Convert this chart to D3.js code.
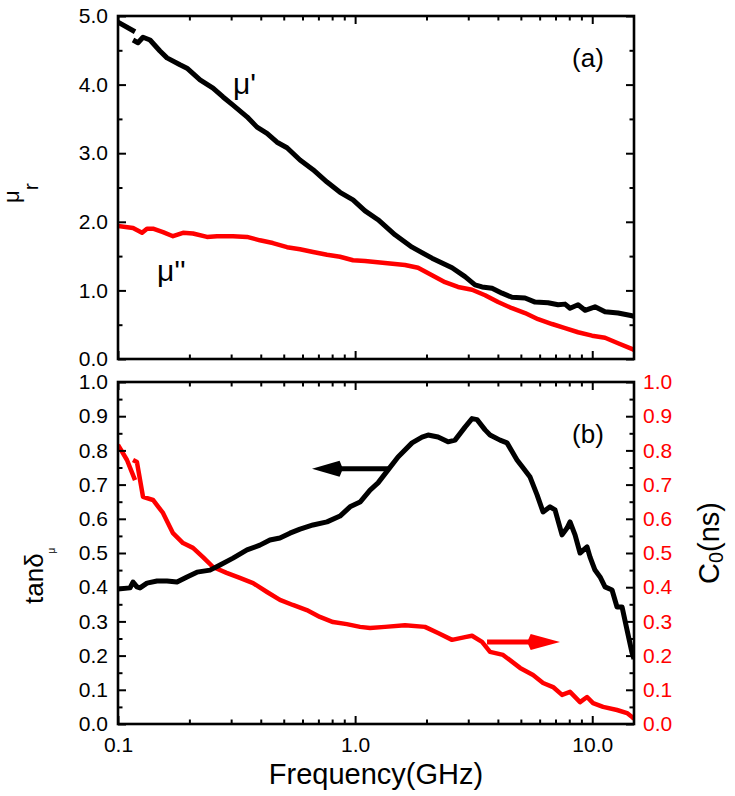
<!DOCTYPE html>
<html>
<head>
<meta charset="utf-8">
<script src="https://cdn.jsdelivr.net/npm/d3@7"></script>
<style>
  html, body { margin: 0; padding: 0; background: #fff; }
  svg { display: block; }
</style>
</head>
<body>
<svg id="chart" width="735" height="796"></svg>
<script>
// ---------------- data (frequency in GHz, value) ----------------
const xMajorTicks = [0.1, 1, 10];
const xMajorLabels = ["0.1", "1.0", "10.0"];
const xMinorTicks = [0.2, 0.3, 0.4, 0.5, 0.6, 0.7, 0.8, 0.9, 2, 3, 4, 5, 6, 7, 8, 9];

const topMajorTicks = [0, 1, 2, 3, 4, 5];
const topMajorLabels = ["0.0", "1.0", "2.0", "3.0", "4.0", "5.0"];
const topMinorTicks = [0.5, 1.5, 2.5, 3.5, 4.5];

const botMajorTicks = [0, 0.1, 0.2, 0.3, 0.4, 0.5, 0.6, 0.7, 0.8, 0.9, 1.0];
const botMajorLabels = ["0.0", "0.1", "0.2", "0.3", "0.4", "0.5", "0.6", "0.7", "0.8", "0.9", "1.0"];
const botMinorTicks = [0.05, 0.15, 0.25, 0.35, 0.45, 0.55, 0.65, 0.75, 0.85, 0.95];

// mu' (black, top panel); null marks a break in the trace
const muPrime = [
  [0.1, 4.91], [0.118, 4.77], null,
  [0.1157, 4.65], [0.1214, 4.61], [0.1275, 4.69], [0.1365, 4.65], [0.1503, 4.49],
  [0.1609, 4.39], [0.1826, 4.29], [0.1954, 4.24], [0.2218, 4.07], [0.2516, 3.95],
  [0.2773, 3.82], [0.3055, 3.70], [0.35, 3.53], [0.3857, 3.38], [0.425, 3.29],
  [0.4684, 3.16], [0.5162, 3.08], [0.5856, 2.90], [0.6645, 2.76], [0.7612, 2.58],
  [0.8636, 2.43], [0.9797, 2.32], [1.101, 2.16], [1.249, 2.03], [1.473, 1.81],
  [1.738, 1.63], [2.11, 1.47], [2.563, 1.33], [2.907, 1.20], [3.203, 1.08],
  [3.429, 1.05], [3.779, 1.03], [4.165, 0.96], [4.588, 0.90], [5.207, 0.89],
  [5.74, 0.83], [6.512, 0.82], [7.175, 0.79], [7.678, 0.80], [8.06, 0.74],
  [8.712, 0.79], [9.325, 0.71], [10.27, 0.76], [11.32, 0.69], [12.85, 0.67],
  [14.72, 0.63], [15, 0.62]
];

// mu'' (red, top panel)
const muDouble = [
  [0.1, 1.94], [0.1157, 1.91], [0.1263, 1.84], [0.1325, 1.90], [0.1405, 1.90],
  [0.1548, 1.85], [0.1706, 1.79], [0.188, 1.84], [0.2071, 1.83], [0.2373, 1.78],
  [0.2616, 1.79], [0.3055, 1.79], [0.35, 1.78], [0.3967, 1.73], [0.4499, 1.69],
  [0.5162, 1.63], [0.5856, 1.60], [0.6645, 1.56], [0.7612, 1.52], [0.8636, 1.49],
  [0.9797, 1.44], [1.101, 1.43], [1.337, 1.40], [1.623, 1.37], [1.842, 1.33],
  [2.11, 1.22], [2.394, 1.12], [2.716, 1.05], [3.112, 1.01], [3.532, 0.93],
  [4.007, 0.83], [4.588, 0.74], [5.207, 0.67], [5.909, 0.58], [6.769, 0.51],
  [7.678, 0.45], [8.712, 0.39], [9.98, 0.34], [11.32, 0.31], [12.85, 0.23],
  [14.86, 0.14], [15, 0.13]
];

// tan delta_mu (black, bottom panel, left axis)
const tanDelta = [
  [0.1, 0.395], [0.1124, 0.398], [0.1157, 0.415], [0.1202, 0.401], [0.1238, 0.398],
  [0.1325, 0.412], [0.146, 0.418], [0.1609, 0.418], [0.1773, 0.415], [0.1954, 0.430],
  [0.2153, 0.444], [0.2444, 0.450], [0.2693, 0.465], [0.3055, 0.485], [0.35, 0.509],
  [0.3967, 0.523], [0.4372, 0.538], [0.4818, 0.544], [0.531, 0.558], [0.5856, 0.570],
  [0.6645, 0.582], [0.7612, 0.591], [0.8636, 0.608], [0.9516, 0.635], [1.049, 0.649],
  [1.156, 0.684], [1.249, 0.705], [1.377, 0.743], [1.517, 0.781], [1.738, 0.822],
  [1.915, 0.839], [2.03, 0.845], [2.237, 0.839], [2.465, 0.825], [2.638, 0.830],
  [2.907, 0.868], [3.112, 0.893], [3.267, 0.890], [3.532, 0.860], [3.707, 0.845],
  [4.085, 0.830], [4.371, 0.822], [4.817, 0.772], [5.106, 0.749], [5.468, 0.722],
  [5.852, 0.670], [6.203, 0.620], [6.637, 0.635], [6.967, 0.626], [7.458, 0.553],
  [7.829, 0.573], [8.06, 0.591], [8.462, 0.553], [8.884, 0.500], [9.508, 0.518],
  [9.79, 0.488], [10.27, 0.450], [10.79, 0.430], [11.32, 0.401], [12.12, 0.392],
  [12.72, 0.342], [13.36, 0.342], [14.02, 0.275], [14.72, 0.208], [15, 0.19]
];

// C0 (red, bottom panel, right axis); null marks a break in the trace
const c0 = [
  [0.1, 0.816], [0.1091, 0.772], [0.118, 0.713], null,
  [0.1157, 0.772], [0.1202, 0.766], [0.1275, 0.664], [0.1405, 0.655], [0.1548, 0.617],
  [0.1706, 0.558], [0.188, 0.529], [0.2071, 0.515], [0.2282, 0.488], [0.2516, 0.459],
  [0.287, 0.442], [0.3264, 0.427], [0.3712, 0.412], [0.425, 0.386], [0.4818, 0.363],
  [0.5462, 0.348], [0.6253, 0.333], [0.7102, 0.313], [0.8066, 0.298], [0.9224, 0.292],
  [1.049, 0.284], [1.156, 0.281], [1.337, 0.284], [1.623, 0.289], [1.97, 0.284],
  [2.237, 0.266], [2.563, 0.246], [2.907, 0.254], [3.112, 0.258], [3.429, 0.240],
  [3.707, 0.211], [4.206, 0.202], [4.961, 0.164], [5.628, 0.143], [6.203, 0.120],
  [6.835, 0.108], [7.458, 0.085], [8.06, 0.094], [8.884, 0.064], [9.508, 0.079],
  [10.08, 0.061], [11.11, 0.050], [12.72, 0.041], [14.02, 0.032], [14.86, 0.018],
  [15, 0.015]
];

// ---------------- layout ----------------
const FONT = "'Liberation Sans', Arial, Helvetica, sans-serif";
const RED = "#ff0000";
const L = 118, R = 634;
const T1 = 16, B1 = 359, T2 = 382, B2 = 724;

const svg = d3.select("#chart");
svg.append("rect").attr("width", 735).attr("height", 796).attr("fill", "#fff");

const x = d3.scaleLog().domain([0.1, 15]).range([L, R]);
const y1 = d3.scaleLinear().domain([0, 5]).range([B1, T1]);
const y2 = d3.scaleLinear().domain([0, 1]).range([B2, T2]);

function styleAxis(g, color) {
  g.select(".domain").remove();
  g.selectAll(".tick line").attr("stroke", "#000").attr("stroke-width", 2);
  g.attr("font-family", FONT).attr("font-size", 21);
  g.selectAll(".tick text").attr("fill", color || "#000");
}

function panelAxes(y, top, bottom, majors, labels, minors, rightLabels, showX) {
  // left
  svg.append("g").attr("transform", `translate(${L},0)`)
    .call(d3.axisLeft(y).tickValues(majors).tickSize(-8).tickPadding(10)
      .tickFormat((d, i) => labels[i]))
    .call(g => styleAxis(g));
  svg.append("g").attr("transform", `translate(${L},0)`)
    .call(d3.axisLeft(y).tickValues(minors).tickSize(-4.5).tickFormat(""))
    .call(g => styleAxis(g));
  // right
  svg.append("g").attr("transform", `translate(${R},0)`)
    .call(d3.axisRight(y).tickValues(majors).tickSize(-8).tickPadding(9)
      .tickFormat((d, i) => rightLabels ? labels[i] : ""))
    .call(g => styleAxis(g, RED));
  svg.append("g").attr("transform", `translate(${R},0)`)
    .call(d3.axisRight(y).tickValues(minors).tickSize(-4.5).tickFormat(""))
    .call(g => styleAxis(g));
  // bottom
  svg.append("g").attr("transform", `translate(0,${bottom})`)
    .call(d3.axisBottom(x).tickValues(xMajorTicks).tickSize(-8).tickPadding(13)
      .tickFormat((d, i) => showX ? xMajorLabels[i] : ""))
    .call(g => styleAxis(g));
  svg.append("g").attr("transform", `translate(0,${bottom})`)
    .call(d3.axisBottom(x).tickValues(xMinorTicks).tickSize(-4.5).tickFormat(""))
    .call(g => styleAxis(g));
  // top
  svg.append("g").attr("transform", `translate(0,${top})`)
    .call(d3.axisTop(x).tickValues(xMajorTicks).tickSize(-8).tickFormat(""))
    .call(g => styleAxis(g));
  svg.append("g").attr("transform", `translate(0,${top})`)
    .call(d3.axisTop(x).tickValues(xMinorTicks).tickSize(-4.5).tickFormat(""))
    .call(g => styleAxis(g));
  // frame
  svg.append("rect").attr("x", L).attr("y", top).attr("width", R - L).attr("height", bottom - top)
    .attr("fill", "none").attr("stroke", "#000").attr("stroke-width", 2.6);
}

function drawLine(data, y, color, width, clipId) {
  const line = d3.line().defined(d => d !== null)
    .x(d => x(d[0])).y(d => y(d[1]));
  svg.append("path").datum(data)
    .attr("d", line)
    .attr("fill", "none").attr("stroke", color).attr("stroke-width", width)
    .attr("stroke-linejoin", "round").attr("stroke-linecap", "butt")
    .attr("clip-path", `url(#${clipId})`);
}

const defs = svg.append("defs");
defs.append("clipPath").attr("id", "clipTop").append("rect")
  .attr("x", L).attr("y", T1).attr("width", R - L).attr("height", B1 - T1);
defs.append("clipPath").attr("id", "clipBot").append("rect")
  .attr("x", L).attr("y", T2).attr("width", R - L).attr("height", B2 - T2);

// ---------- panel (a) ----------
drawLine(muDouble, y1, RED, 4.5, "clipTop");
drawLine(muPrime, y1, "#000", 5, "clipTop");
panelAxes(y1, T1, B1, topMajorTicks, topMajorLabels, topMinorTicks, false, false);

// ---------- panel (b) ----------
drawLine(c0, y2, RED, 4.5, "clipBot");
drawLine(tanDelta, y2, "#000", 5, "clipBot");
panelAxes(y2, T2, B2, botMajorTicks, botMajorLabels, botMinorTicks, true, true);

// ---------- arrows ----------
function arrow(f0, f1, fHeadBase, v, y, color) {
  const ya = y(v);
  svg.append("line").attr("x1", x(f0)).attr("x2", x(fHeadBase)).attr("y1", ya).attr("y2", ya)
    .attr("stroke", color).attr("stroke-width", 5);
  const xt = x(f1), xb = x(fHeadBase);
  svg.append("path")
    .attr("d", `M${xt},${ya} L${xb},${ya - 8} L${xb - (xt - xb) * 0.12},${ya} L${xb},${ya + 8} Z`)
    .attr("fill", color);
}
arrow(1.377, 0.658, 0.86, 0.746, y2, "#000");
arrow(3.6, 7.31, 5.5, 0.24, y2, RED);

// ---------- text ----------
const txt = (xx, yy, s, size, color) => svg.append("text")
  .attr("x", xx).attr("y", yy).attr("font-family", FONT).attr("font-size", size)
  .attr("fill", color || "#000").text(s);

txt(x(0.3055), y1(3.86), "\u03bc'", 30);
txt(x(0.146), y1(1.14), "\u03bc''", 30);
txt(x(8.22), y1(4.26), "(a)", 26);
txt(x(8.22), y2(0.822), "(b)", 26);

// x title
svg.append("text").attr("x", (L + R) / 2).attr("y", 784)
  .attr("text-anchor", "middle").attr("font-family", FONT).attr("font-size", 29)
  .text("Frequency(GHz)");

// y title top: mu_r
const t1 = svg.append("text").attr("transform", "translate(18.5,203) rotate(-90)")
  .attr("font-family", FONT).attr("font-size", 22);
t1.append("tspan").text("\u03bc");
t1.append("tspan").attr("dy", 19).attr("font-size", 21).text("r");

// y title bottom left: tan delta_mu
const t2 = svg.append("text").attr("transform", "translate(43,604) rotate(-90)")
  .attr("font-family", FONT).attr("font-size", 26);
t2.append("tspan").text("tan\u03b4");
t2.append("tspan").attr("dy", 12).attr("font-size", 10).text("\u03bc");

// y title bottom right: C0(ns)
const t3 = svg.append("text").attr("transform", "translate(719,584) rotate(-90)")
  .attr("font-family", FONT).attr("font-size", 29);
t3.append("tspan").text("C");
t3.append("tspan").attr("dy", 4).attr("font-size", 20).text("0");
t3.append("tspan").attr("dy", -4).text("(ns)");
</script>
</body>
</html>
